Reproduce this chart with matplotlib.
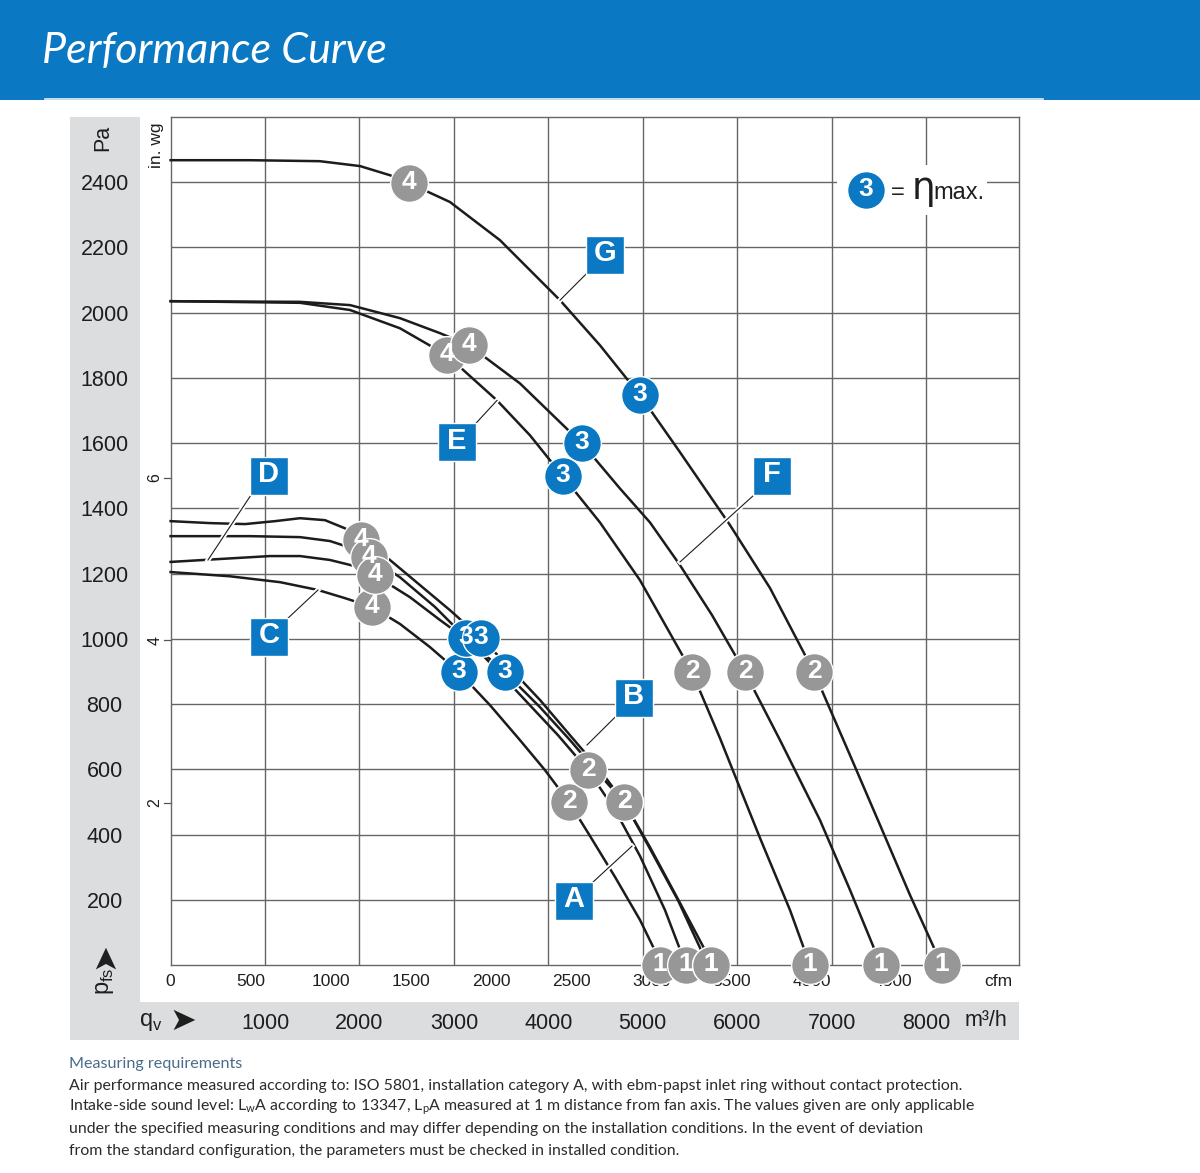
import matplotlib
matplotlib.use("Agg")
import matplotlib.pyplot as plt
import matplotlib.patheffects as pe
from matplotlib.patches import Rectangle
from matplotlib.transforms import blended_transform_factory

ARIAL = ["Liberation Sans", "DejaVu Sans"]
plt.rcParams["font.family"] = ARIAL

# ---- curve data: flow qv [m3/h], pressure pfs [Pa] ----
g_q = [0, 840, 1580, 2006, 2323, 2524, 2958, 3488, 4124, 4547, 4971, 5395, 5924, 6348, 6814, 7195, 7513, 7831, 8169]
g_p = [2467, 2467, 2464, 2449, 2421, 2397, 2339, 2222, 2038, 1900, 1747, 1572, 1349, 1156, 898, 644, 430, 215, 0]

f_q = [0, 1371, 1900, 2429, 2853, 3160, 3700, 4357, 4759, 5077, 5395, 5734, 6083, 6454, 6877, 7195, 7524]
f_p = [2035, 2033, 2023, 1983, 1937, 1900, 1783, 1599, 1461, 1357, 1226, 1073, 898, 690, 445, 231, 0]

e_q = [0, 1371, 1900, 2429, 2927, 3457, 3806, 4156, 4547, 4971, 5522, 5818, 6242, 6560, 6772]
e_p = [2035, 2030, 2008, 1952, 1869, 1731, 1624, 1498, 1357, 1180, 898, 696, 390, 169, 0]

b_q = [0, 417, 788, 1106, 1371, 1635, 1847, 2017, 2323, 2641, 2959, 3288, 3594, 3912, 4230, 4547, 4802, 5056, 5374, 5692]
b_p = [1361, 1355, 1352, 1361, 1370, 1364, 1339, 1303, 1242, 1165, 1088, 1003, 911, 813, 705, 598, 500, 368, 199, 0]

a_q = [0, 841, 1371, 1688, 1953, 2101, 2429, 2800, 3128, 3436, 3753, 4103, 4420, 4706, 4971, 5236, 5459]
a_p = [1315, 1315, 1312, 1300, 1275, 1251, 1189, 1098, 1003, 911, 813, 705, 598, 476, 335, 169, 0]

d_q = [0, 523, 1053, 1371, 1688, 1953, 2165, 2535, 2853, 3171, 3541, 3912, 4230, 4547, 4802, 5077, 5395, 5745]
d_p = [1236, 1245, 1254, 1254, 1242, 1223, 1195, 1128, 1058, 991, 898, 791, 690, 583, 500, 362, 191, 0]

c_q = [0, 629, 1159, 1561, 1847, 2133, 2429, 2747, 3054, 3383, 3700, 3965, 4219, 4442, 4706, 4971, 5205]
c_p = [1205, 1192, 1174, 1150, 1125, 1098, 1046, 975, 898, 797, 690, 598, 500, 396, 271, 139, 0]

# operating points 4, 3, 2, 1 on each curve
pt_names = ["4", "3", "2", "1"]
g_pts = [(2524, 2397), (4971, 1747), (6814, 898), (8169, 0)]
f_pts = [(3160, 1900), (4357, 1599), (6083, 898), (7524, 0)]
e_pts = [(2927, 1869), (4156, 1498), (5522, 898), (6772, 0)]
b_pts = [(2017, 1303), (3288, 1003), (4802, 500), (5723, 0)]
a_pts = [(2101, 1251), (3128, 1003), (4420, 598), (5459, 0)]
d_pts = [(2165, 1195), (3541, 898), (4802, 500), (5723, 0)]
c_pts = [(2133, 1098), (3054, 898), (4219, 500), (5183, 0)]

pa_ticks = list(range(200, 2600, 200))
m3h_ticks = list(range(1000, 9000, 1000))
cfm_ticks = [0, 500, 1000, 1500, 2000, 2500, 3000, 3500, 4000, 4500]
inwg_ticks = [2, 4, 6]

BLUE = "#0a78c2"
GREY = "#979797"
PANEL = "#dcdddf"
LINE = "#1c1c1c"
TXT = "#1e1e1e"

fig = plt.figure(figsize=(12, 11.73), dpi=100)

# background layer in pixel coordinates
bg = fig.add_axes([0, 0, 1, 1], zorder=0)
bg.set_xlim(0, 1200)
bg.set_ylim(1173, 0)
bg.axis("off")
bg.add_patch(Rectangle((0, 0), 1200, 100, color=BLUE, lw=0))
bg.plot([45, 1043], [98.5, 98.5], color="#e8f1fa", lw=1.2)
bg.text(42, 51, "Performance Curve", color="white", fontsize=31, style="italic",
        family=["Lato", "DejaVu Sans"], va="center", ha="left")
bg.add_patch(Rectangle((70, 117), 70, 923, color=PANEL, lw=0))
bg.add_patch(Rectangle((70, 1002), 949, 38, color=PANEL, lw=0))

foot = ["Lato", "DejaVu Sans"]
bg.text(69, 1064, "Measuring requirements", color="#4a6b8a", fontsize=11.6, family=foot, va="center")
body = [
    "Air performance measured according to: ISO 5801, installation category A, with ebm-papst inlet ring without contact protection.",
    "Intake-side sound level: L$_\\mathregular{w}$A according to 13347, L$_\\mathregular{p}$A measured at 1 m distance from fan axis. The values given are only applicable",
    "under the specified measuring conditions and may differ depending on the installation conditions. In the event of deviation",
    "from the standard configuration, the parameters must be checked in installed condition.",
]
for i, line in enumerate(body):
    bg.text(69, 1086 + i * 21.5, line, color="#2b2b2b", fontsize=11.4, family=foot, va="center")

# main chart
ax = fig.add_axes([170.6 / 1200, 1 - 965.3 / 1173, 848.4 / 1200, 848.5 / 1173], zorder=1)
ax.set_xlim(0, 8985)
ax.set_ylim(0, 2600)
ax.set_axisbelow(True)
ax.set_xticks(m3h_ticks)
ax.set_yticks(pa_ticks)
ax.grid(color="#666666", lw=1)
for s in ax.spines.values():
    s.set_color("#666666")
    s.set_linewidth(1)
ax.tick_params(axis="y", length=0, pad=47.5, labelsize=15.5, labelcolor=TXT)
ax.tick_params(axis="x", length=0, pad=34, labelsize=15.5, labelcolor=TXT)
for lbl in ax.get_yticklabels():
    lbl.set_ha("center")

xa = blended_transform_factory(ax.transData, ax.transAxes)
ya = blended_transform_factory(ax.transAxes, ax.transData)

# cfm scale
for c in cfm_ticks:
    ax.text(c * 1.699, -0.019, str(c), transform=xa, ha="center", va="center", fontsize=12.5, color=TXT)
ax.text(8762, -0.019, "cfm", transform=xa, ha="center", va="center", fontsize=12.5, color=TXT)
ax.text(8635, -0.0656, "m³/h", transform=xa, ha="center", va="center", fontsize=15.5, color=TXT)

# in. wg scale
for w in inwg_ticks:
    ax.text(-0.0184, w * 249.09, str(w), transform=ya, rotation=90, ha="center", va="center", fontsize=11.5, color=TXT)
    ax.plot([-0.0075, 0], [w * 249.09] * 2, transform=ya, color="#555", lw=0.9, clip_on=False)
ax.text(-0.0172, 0.967, "in. wg", transform=ax.transAxes, rotation=90, ha="center", va="center", fontsize=12.5, color=TXT)
ax.text(-0.0794, 0.975, "Pa", transform=ax.transAxes, rotation=90, ha="center", va="center", fontsize=15.5, color=TXT)
ax.text(-0.0778, -0.019, "p$_\\mathregular{fs}$", transform=ax.transAxes, rotation=90, ha="center", va="center", fontsize=17, color=TXT)
ax.text(-0.0778, 0.012, "➤", transform=ax.transAxes, rotation=90, ha="center", va="center", fontsize=23, color=TXT,
        family=["DejaVu Sans"])
ax.text(-0.023, -0.0665, "q$_\\mathregular{v}$", transform=ax.transAxes, ha="center", va="center", fontsize=17, color=TXT)
ax.text(0.0146, -0.0656, "➤", transform=ax.transAxes, ha="center", va="center", fontsize=23, color=TXT,
        family=["DejaVu Sans"])

# curves
curves = [(g_q, g_p, g_pts), (f_q, f_p, f_pts), (e_q, e_p, e_pts),
          (b_q, b_p, b_pts), (a_q, a_p, a_pts), (d_q, d_p, d_pts), (c_q, c_p, c_pts)]
for q, p, pts in curves:
    ax.plot(q, p, color=LINE, lw=1.8, zorder=3, solid_joinstyle="round", clip_on=False)

# curve labels with leader lines
halo = [pe.Stroke(linewidth=3.5, foreground="white"), pe.Normal()]
labels = [
    ("G", (4600, 2177), (4410, 2121), (4124, 2038)),
    ("E", (3033, 1603), (3234, 1661), (3457, 1731)),
    ("D", (1042, 1499), (851, 1441), (396, 1242)),
    ("C", (1042, 1006), (1244, 1064), (1561, 1150)),
    ("B", (4908, 819), (4706, 760), (4410, 675)),
    ("F", (6369, 1499), (6178, 1441), (5395, 1236)),
    ("A", (4272, 197), (4473, 255), (4886, 365)),
]
for name, box, l0, l1 in labels:
    ax.plot([l0[0], l1[0]], [l0[1], l1[1]], color=LINE, lw=0.8, zorder=4, path_effects=halo)
    ax.scatter([box[0]], [box[1]], marker="s", s=760, color=BLUE, edgecolor="white", lw=1, zorder=6)
    ax.text(box[0], box[1] + 5, name, color="white", fontsize=21, weight="bold", ha="center", va="center", zorder=7)

# operating point markers: circles first, digits on top
for q, p, pts in curves:
    for name, (x, y) in zip(pt_names, pts):
        col = BLUE if name == "3" else GREY
        ax.scatter([x], [y], s=740, color=col, edgecolor="white", lw=1, zorder=8 + x / 100000, clip_on=False)
for q, p, pts in curves:
    for name, (x, y) in zip(pt_names, pts):
        ax.text(x, y + 4, name, color="white", fontsize=19, weight="bold", ha="center", va="center",
                zorder=10, clip_on=False)

# eta max legend
ax.add_patch(Rectangle((0.7853, 0.8843), 0.1765, 0.0589, transform=ax.transAxes, color="white", lw=0, zorder=2))
ax.scatter([7364], [2375], s=740, color=BLUE, edgecolor="white", lw=1, zorder=8)
ax.text(7364, 2379, "3", color="white", fontsize=19, weight="bold", ha="center", va="center", zorder=10)
ax.text(7697, 2348, "=", fontsize=17, ha="center", va="baseline", color=TXT, zorder=9)
ax.text(7850, 2348, "η", fontsize=27, ha="left", va="baseline", color=TXT, zorder=9, family=["DejaVu Sans"])
ax.text(8083, 2348, "max.", fontsize=17, ha="left", va="baseline", color=TXT, zorder=9)

fig.savefig("out.png", dpi=100)
